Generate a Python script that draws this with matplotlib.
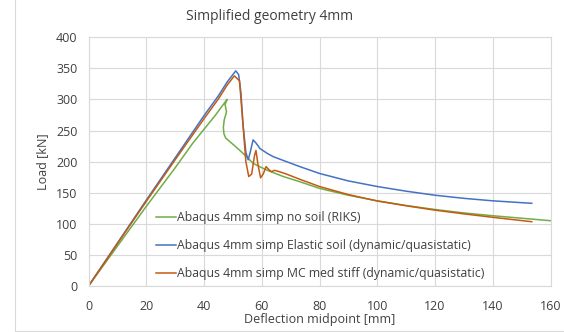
import matplotlib
matplotlib.use('Agg')
import matplotlib.pyplot as plt
from matplotlib.lines import Line2D

plt.rcParams['font.family'] = ['Open Sans', 'DejaVu Sans']

# Abaqus 4mm simp no soil (RIKS)
riks_x = [0, 10, 20, 30, 36, 40, 44, 47.5, 48, 47.3, 47.8, 47.0, 46.7, 46.9, 47.5, 49, 51, 53.6, 57.1,
          61.7, 67.5, 73.2, 80, 90, 100, 110, 120, 130, 140, 150, 160]
riks_y = [0, 64, 128, 190, 229, 252, 275, 297, 300, 292, 280, 267, 255, 245, 238, 232, 224, 213, 197,
          186.5, 176, 167.7, 157, 146, 137, 129.5, 123, 117.5, 113, 109, 105]

# Abaqus 4mm simp Elastic soil (dynamic/quasistatic)
elastic_x = [0, 10, 20, 30, 40, 45, 48, 51, 52, 52.8, 53.5, 54.5, 55.3, 56, 57, 58, 59.4, 62, 64,
             68, 73.2, 80, 90, 100, 110, 120, 130, 140, 153.5]
elastic_y = [0, 69, 138, 206, 274, 306, 328, 346, 340, 310, 260, 215, 203, 215, 235, 230, 221, 213, 208,
             201, 192, 181, 169, 160, 152.5, 146, 141, 137, 133]

# Abaqus 4mm simp MC med stiff (dynamic/quasistatic)
mc_x = [0, 10, 20, 30, 40, 45, 48, 50.5, 52.3, 53.5, 54.5, 55.5, 56.5, 57.5, 58, 58.7, 59.6, 60.5,
        61.5, 62.3, 63.3, 64.5, 66, 68, 73.2, 80, 90, 100, 110, 120, 130, 140, 153.5]
mc_y = [0, 68, 136, 203, 269, 301, 323, 338, 330, 260, 200, 176, 180, 210, 218, 195, 174, 180,
        192, 188, 184, 186, 184, 181, 171.6, 160, 147, 136.7, 129, 122, 116, 110.5, 103.4]

labels = ['Abaqus 4mm simp no soil (RIKS)',
          'Abaqus 4mm simp Elastic soil (dynamic/quasistatic)',
          'Abaqus 4mm simp MC med stiff (dynamic/quasistatic)']
colors = ['#70AD47', '#4472C4', '#C55A11']

fig = plt.figure(figsize=(5.64, 3.32), dpi=100)
ax = fig.add_axes([88.5 / 564, 46 / 332, 462 / 564, 248.7 / 332])

ax.plot(riks_x, riks_y, color=colors[0], lw=1.1, label=labels[0])
ax.plot(elastic_x, elastic_y, color=colors[1], lw=1.1, label=labels[1])
ax.plot(mc_x, mc_y, color=colors[2], lw=1.1, label=labels[2])

ax.set_xlim(0, 160)
ax.set_ylim(0, 400)
ax.set_xticks(range(0, 161, 20))
ax.set_yticks(range(0, 401, 50))
ax.grid(True, color='#D9D9D9', lw=0.8)
ax.set_axisbelow(True)
for s in ax.spines.values():
    s.set_color('#D9D9D9')
    s.set_linewidth(0.8)
ax.tick_params(length=0, labelsize=9, colors='#404040', pad=8)
ax.tick_params(axis='x', pad=10)

ax.set_xlabel('Deflection midpoint [mm]', fontsize=9, color='#404040', labelpad=0)
ax.set_ylabel('Load [kN]', fontsize=9, color='#404040', labelpad=5)
fig.text(270 / 564, 1 - 17 / 332, 'Simplified geometry 4mm', ha='center', va='center',
         fontsize=10, color='#404040')

leg = ax.legend(loc='upper left', bbox_to_anchor=(63 / 462, 80 / 248.7), frameon=False,
                fontsize=8.8, handlelength=1.6, handletextpad=0.05, labelspacing=1.24,
                borderaxespad=0)
for t in leg.get_texts():
    t.set_color('#404040')

# chart area border
fig.add_artist(Line2D([14.5 / 564, 14.5 / 564], [1.5 / 332, 1], color='#D9D9D9', lw=0.8))
fig.add_artist(Line2D([14.5 / 564, 1], [1.5 / 332, 1.5 / 332], color='#D9D9D9', lw=0.8))

fig.savefig('out.png', dpi=100)
